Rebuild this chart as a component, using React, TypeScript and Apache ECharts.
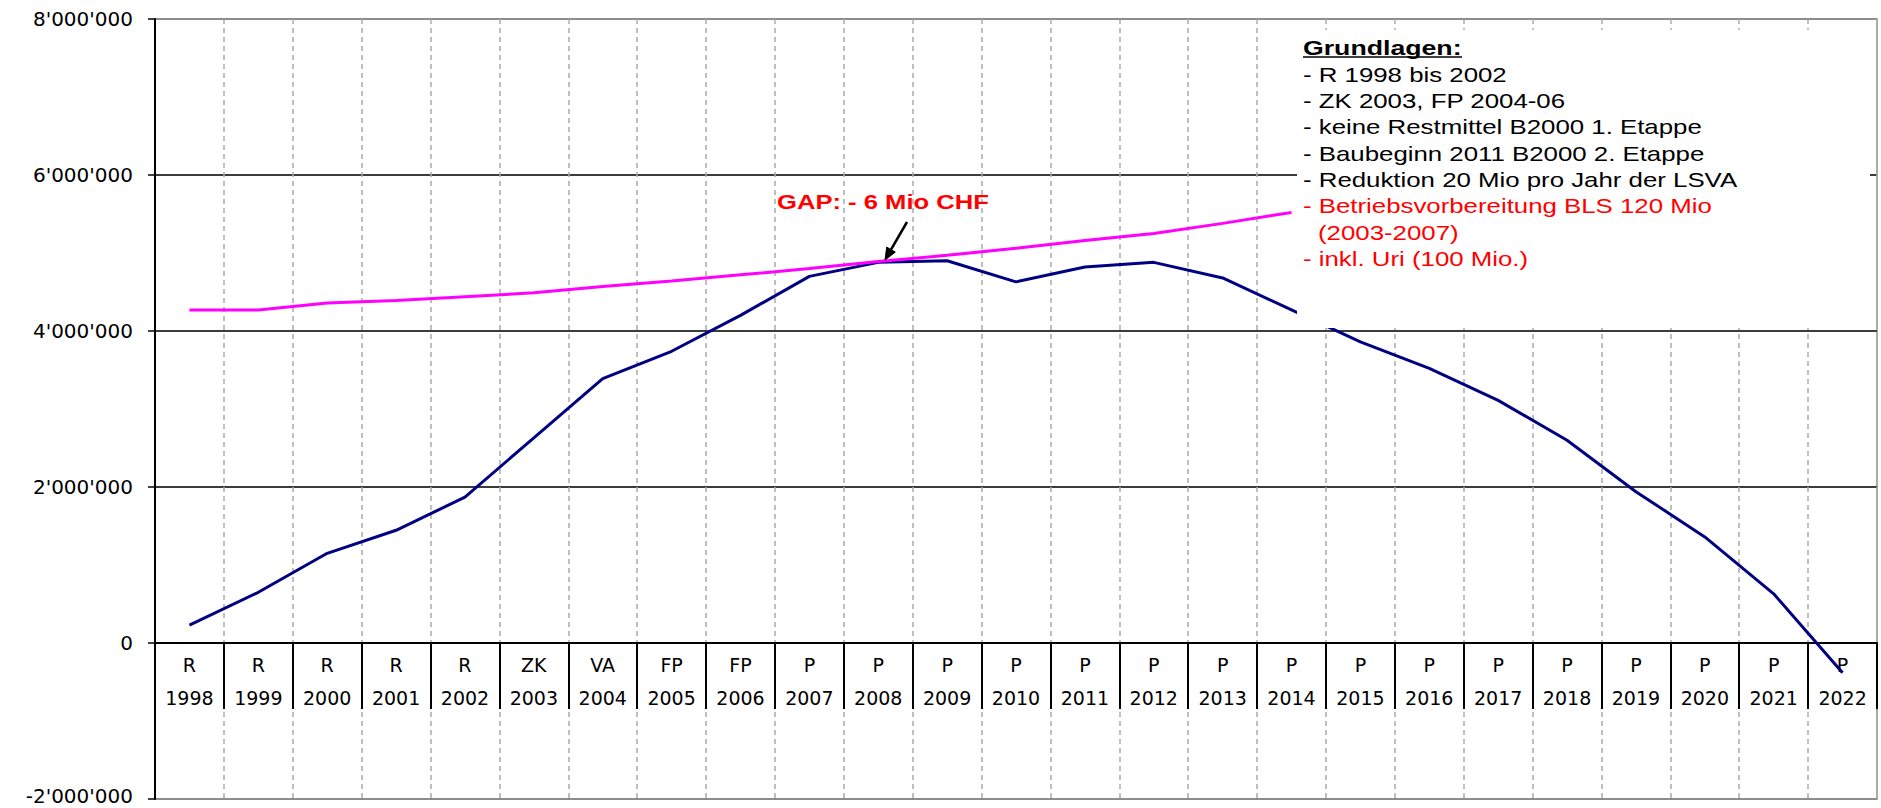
import React, { useEffect, useRef } from "react";
import * as echarts from "echarts";

// ---- data ----
const years = [
  "1998", "1999", "2000", "2001", "2002", "2003", "2004", "2005", "2006", "2007",
  "2008", "2009", "2010", "2011", "2012", "2013", "2014", "2015", "2016", "2017",
  "2018", "2019", "2020", "2021", "2022",
];
const phases = [
  "R", "R", "R", "R", "R", "ZK", "VA", "FP", "FP", "P",
  "P", "P", "P", "P", "P", "P", "P", "P", "P", "P",
  "P", "P", "P", "P", "P",
];
const fundBalance = [
  230000, 650000, 1150000, 1445000, 1870000, 2630000, 3390000, 3740000, 4200000, 4700000,
  4880000, 4900000, 4630000, 4820000, 4880000, 4680000, 4270000, 3860000, 3520000, 3110000,
  2600000, 1940000, 1360000, 630000, -380000,
];
const limitLine = [
  4270000, 4270000, 4360000, 4390000, 4440000, 4490000, 4570000, 4640000, 4720000, 4800000,
  4890000, 4970000, 5060000, 5160000, 5250000, 5380000, 5520000, null, null, null,
  null, null, null, null, null,
];
const yMin = -2000000;
const yMax = 8000000;
const yStep = 2000000;

const noteTitle = "Grundlagen:";
const noteLines = [
  "- R 1998 bis 2002",
  "- ZK 2003, FP 2004-06",
  "- keine Restmittel B2000 1. Etappe",
  "- Baubeginn 2011 B2000 2. Etappe",
  "- Reduktion 20 Mio pro Jahr der LSVA",
  "- Betriebsvorbereitung BLS 120 Mio",
  "(2003-2007)",
  "- inkl. Uri (100 Mio.)",
];
const noteColors = ["#000", "#000", "#000", "#000", "#000", "#ff0000", "#ff0000", "#ff0000"];
const gapLabel = "GAP: - 6 Mio CHF";

// ---- helpers ----
const AXIS_FONT = '"DejaVu Sans", sans-serif';
const NOTE_FONT = '"Liberation Sans", Arial, sans-serif';

function fmt(v: number): string {
  if (v === 0) return "0";
  const s = Math.abs(v).toString().replace(/\B(?=(\d{3})+(?!\d))/g, "'");
  return (v < 0 ? "-" : "") + s;
}

function textEl(text: string, x: number, y: number, font: string, fill: string, scaleX: number, z: number) {
  return {
    type: "text",
    x,
    y,
    scaleX,
    z,
    silent: true,
    style: {
      text,
      font,
      fill,
      align: "left",
      textAlign: "left",
      verticalAlign: "middle",
      textVerticalAlign: "middle",
    },
  };
}

export default function App() {
  const ref = useRef<HTMLDivElement>(null);

  useEffect(() => {
    if (!ref.current) return;
    const chart = echarts.init(ref.current, null, { renderer: "svg" });

    const graphics: any[] = [];
    // white note box
    graphics.push({
      type: "rect",
      z: 100,
      silent: true,
      shape: { x: 1297, y: 30, width: 573, height: 298 },
      style: { fill: "#ffffff" },
    });
    const lineStep = 26.38;
    const top = 48;
    graphics.push(textEl(noteTitle, 1303, top, `bold 21px ${NOTE_FONT}`, "#000", 1.27, 101));
    graphics.push({
      type: "line",
      z: 101,
      silent: true,
      shape: { x1: 1303, y1: 57, x2: 1462, y2: 57 },
      style: { stroke: "#000", lineWidth: 1.5 },
    });
    noteLines.forEach((t, i) => {
      const x = t.startsWith("(") ? 1318 : 1303;
      graphics.push(textEl(t, x, top + lineStep * (i + 1), `21px ${NOTE_FONT}`, noteColors[i], 1.23, 101));
    });
    // GAP annotation
    graphics.push(textEl(gapLabel, 777, 202, `bold 21px ${NOTE_FONT}`, "#ff0000", 1.22, 101));
    graphics.push({
      type: "line",
      z: 101,
      silent: true,
      shape: { x1: 907, y1: 222, x2: 891, y2: 249.6 },
      style: { stroke: "#000", lineWidth: 2.5 },
    });
    graphics.push({
      type: "polygon",
      z: 101,
      silent: true,
      shape: { points: [[885, 260], [895.3, 252.1], [886.7, 247.1]] },
      style: { fill: "#000", stroke: "#000", lineWidth: 1 },
    });

    // grid spans 19..799 px; the value 0 lies 156 px above the bottom edge
    const zeroOffset = -156;

    chart.setOption({
      animation: false,
      backgroundColor: "#ffffff",
      grid: {
        left: 155,
        right: 4,
        top: 19,
        bottom: 9,
        show: true,
        borderColor: "#8c8c8c",
        borderWidth: 1.5,
        containLabel: false,
        outerBoundsMode: "none",
      },
      xAxis: {
        type: "category",
        data: years,
        boundaryGap: true,
        position: "bottom",
        offset: zeroOffset,
        axisLine: { show: true, onZero: false, lineStyle: { color: "#000", width: 2 } },
        axisTick: { show: true, interval: 0, length: 66, lineStyle: { color: "#000", width: 2 } },
        axisLabel: {
          interval: 0,
          formatter: (v: string, i: number) => `${phases[i]}\n${v}`,
          fontFamily: AXIS_FONT,
          fontSize: 19,
          color: "#000",
          lineHeight: 33,
          margin: 5,
        },
        splitLine: {
          show: true,
          interval: 0,
          lineStyle: { color: "#aaaaaa", type: [5, 4], width: 1.5 },
        },
      },
      yAxis: {
        type: "value",
        min: yMin,
        max: yMax,
        interval: yStep,
        axisLine: { show: true, onZero: false, lineStyle: { color: "#000", width: 2 } },
        axisTick: { show: true, length: 7, lineStyle: { color: "#000", width: 1.5 } },
        axisLabel: {
          formatter: (v: number) => (v === yMin ? `{lo|${fmt(v)}}` : fmt(v)),
          fontFamily: AXIS_FONT,
          fontSize: 20,
          lineHeight: 20,
          color: "#000",
          margin: 22,
          rich: {
            lo: {
              fontFamily: AXIS_FONT,
              fontSize: 20,
              lineHeight: 20,
              color: "#000",
              padding: [0, 0, 6, 0],
            },
          },
        },
        splitLine: {
          show: true,
          lineStyle: {
            color: ["#8c8c8c", "#3c3c3c", "#3c3c3c", "#3c3c3c", "#3c3c3c", "#8c8c8c"],
            width: 2,
          },
        },
      },
      series: [
        {
          type: "line",
          data: fundBalance,
          symbol: "none",
          z: 3,
          lineStyle: { color: "#000080", width: 3 },
          itemStyle: { color: "#000080" },
        },
        {
          type: "line",
          data: limitLine,
          symbol: "none",
          z: 4,
          connectNulls: false,
          lineStyle: { color: "#ff00ff", width: 3 },
          itemStyle: { color: "#ff00ff" },
        },
      ],
      graphic: { elements: graphics },
    });

    return () => chart.dispose();
  }, []);

  return (
    <div
      ref={ref}
      style={{ position: "absolute", left: 0, top: 0, width: 1881, height: 808, background: "#fff" }}
    />
  );
}
